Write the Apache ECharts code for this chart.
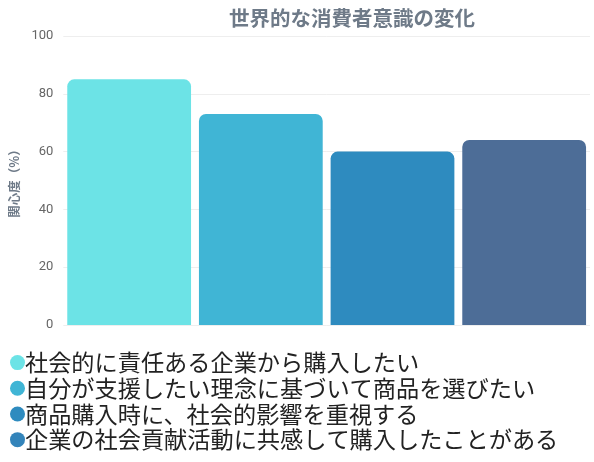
<!DOCTYPE html>
<html>
<head>
<meta charset="utf-8">
<script src="https://cdn.jsdelivr.net/npm/echarts@6/dist/echarts.min.js"></script>
<style>
html,body{margin:0;padding:0;background:#fff;}
#tu1{width:594px;height:462px;}
</style>
</head>
<body>
<div id="tu1"></div>
<script>
// データ
var categories = ["社会的に責任ある企業から購入したい", "自分が支援したい理念に基づいて商品を選びたい", "商品購入時に、社会的影響を重視する", "企業の社会貢献活動に共感して購入したことがある"];
var values = [85, 73, 60, 64];
var barColors = ["#6ce3e6", "#40b5d5", "#2e8bbf", "#4d6d97"];
var legendColors = ["#6ce3e6", "#40b5d5", "#2e8bbf", "#3384ba"];

var myChart = echarts.init(document.getElementById('tu1'));

var series = categories.map(function(name, i) {
	var d = categories.map(function(c, j) { return j === i ? values[i] : null; });
	return {
		name: name,
		type: "bar",
		stack: "all",
		barWidth: "94%",
		data: d,
		itemStyle: { color: barColors[i], borderRadius: [7, 7, 0, 0] }
	};
});

var option = {
	title: {
		text: "世界的な消費者意識の変化",
		left: 224,
		top: 3,
		textStyle: { color: "#6e7a88", fontSize: 20.5, fontWeight: "bold", fontFamily: "Noto Sans CJK JP" }
	},
	legend: {
		orient: "vertical",
		left: 5,
		top: 346,
		itemGap: 2.5,
		icon: "circle",
		itemWidth: 15,
		itemHeight: 15,
		textStyle: { color: "#222", fontSize: 23.2, lineHeight: 22.5, fontFamily: "Noto Sans CJK JP", padding: [0, 0, 0, -5] },
		data: categories.map(function(c, i) { return { name: c, itemStyle: { color: legendColors[i] } }; })
	},
	grid: { left: 62, right: 4, top: 36, bottom: 137 },
	xAxis: {
		type: "category",
		data: categories,
		axisLabel: { show: false },
		axisTick: { show: false },
		axisLine: { show: false }
	},
	yAxis: {
		type: "value",
		min: 0,
		max: 100,
		interval: 20,
		name: "関心度（%）",
		nameLocation: "middle",
		nameGap: 34,
		nameRotate: 90,
		nameTextStyle: { color: "#6e7a88", fontSize: 12.5, fontWeight: "bold", fontFamily: "Noto Sans CJK JP" },
		axisLabel: { color: "#666", fontSize: 13, margin: 10, fontFamily: "Roboto" },
		splitLine: { lineStyle: { color: "#eeeeee" } }
	},
	series: series
};

myChart.setOption(option);
</script>
</body>
</html>
